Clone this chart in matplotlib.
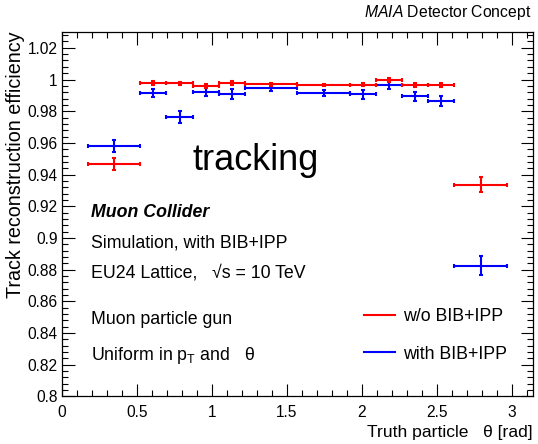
"""Track reconstruction efficiency vs truth theta, with and without BIB+IPP."""
import numpy as np
import matplotlib
matplotlib.use('Agg')
import matplotlib.pyplot as plt
from matplotlib.ticker import MultipleLocator, FuncFormatter
from matplotlib.lines import Line2D

plt.rcParams['font.family'] = ['Liberation Sans', 'DejaVu Sans']
plt.rcParams['mathtext.fontset'] = 'custom'
plt.rcParams['mathtext.rm'] = 'Liberation Sans'
plt.rcParams['mathtext.it'] = 'Liberation Sans:italic'

# theta bin edges in degrees
bin_edges_deg = [10, 30, 40, 50, 60, 70, 90, 110, 120, 130, 140, 150, 170]

# efficiency without BIB+IPP
eff_no_bib = [0.9467, 0.9978, 0.9976, 0.9959, 0.9978, 0.9970,
              0.9965, 0.9967, 0.9997, 0.9965, 0.9965, 0.9336]
err_no_bib = [0.0040, 0.0012, 0.0010, 0.0012, 0.0012, 0.0008,
              0.0008, 0.0010, 0.0010, 0.0012, 0.0012, 0.0046]

# efficiency with BIB+IPP
eff_bib = [0.9582, 0.9913, 0.9765, 0.9921, 0.9909, 0.9944,
           0.9913, 0.9907, 0.9963, 0.9894, 0.9866, 0.8825]
err_bib = [0.0037, 0.0026, 0.0037, 0.0026, 0.0030, 0.0017,
           0.0020, 0.0027, 0.0020, 0.0030, 0.0030, 0.0060]

RED = '#ff0000'
BLUE = '#0000ff'

edges = np.deg2rad(bin_edges_deg)
centers = 0.5 * (edges[1:] + edges[:-1])
half_w = 0.5 * (edges[1:] - edges[:-1])

fig = plt.figure(figsize=(5.38, 4.44), dpi=100)
ax = fig.add_axes([0.1147, 0.107, 0.876, 0.821])

ax.errorbar(centers, eff_bib, xerr=half_w, yerr=err_bib, fmt='none',
            ecolor=BLUE, elinewidth=1.5, capsize=1.6, capthick=1.5)
ax.errorbar(centers, eff_no_bib, xerr=half_w, yerr=err_no_bib, fmt='none',
            ecolor=RED, elinewidth=1.5, capsize=1.6, capthick=1.5)

ax.set_xlim(0, np.pi)
ax.set_ylim(0.8, 1.03)
ax.xaxis.set_major_locator(MultipleLocator(0.5))
ax.xaxis.set_minor_locator(MultipleLocator(0.1))
ax.yaxis.set_major_locator(MultipleLocator(0.02))
ax.yaxis.set_minor_locator(MultipleLocator(0.004))
ax.xaxis.set_major_formatter(FuncFormatter(lambda v, p: f'{v:g}'))
ax.yaxis.set_major_formatter(FuncFormatter(lambda v, p: f'{round(v, 3):g}'))
ax.tick_params(which='both', direction='in', top=True, right=True,
               labelsize=11.2, width=0.8)
ax.tick_params(which='major', length=9)
ax.tick_params(which='minor', length=4.5)
ax.tick_params(axis='x', pad=6)
ax.tick_params(axis='y', pad=3)
for sp in ax.spines.values():
    sp.set_linewidth(0.9)

ax.set_xlabel('Truth particle   \u03b8 [rad]', fontsize=12.6, ha='right')
ax.xaxis.set_label_coords(1.0, -0.078)
ax.set_ylabel('Track reconstruction efficiency', fontsize=14.2,
              ha='right', va='center')
ax.yaxis.set_label_coords(-0.099, 1.0)

fig.text(0.988, 0.962, r'$\mathit{MAIA}$ Detector Concept', ha='right',
         va='baseline', fontsize=11.3)

ax.text(0.2765, 0.621, 'tracking', transform=ax.transAxes, fontsize=26,
        va='baseline', ha='left')

tx = 0.0615
ax.text(tx, 0.4916, 'Muon Collider', transform=ax.transAxes, fontsize=12.8,
        fontweight='bold', fontstyle='italic', va='baseline')
ax.text(tx, 0.409, 'Simulation, with BIB+IPP', transform=ax.transAxes,
        fontsize=12.8, va='baseline')
ax.text(tx, 0.327, 'EU24 Lattice,   \u221as = 10 TeV', transform=ax.transAxes,
        fontsize=12.8, va='baseline')
ax.text(tx, 0.1989, 'Muon particle gun', transform=ax.transAxes,
        fontsize=12.8, va='baseline')
ax.text(tx, 0.1001, r'Uniform in $\mathrm{p}_\mathrm{T}$ and   $\mathrm{\theta}$',
        transform=ax.transAxes, fontsize=12.8, va='baseline')

handles = [Line2D([0], [0], color=RED, lw=1.5, label='w/o BIB+IPP'),
           Line2D([0], [0], color=BLUE, lw=1.5, label='with BIB+IPP')]
ax.legend(handles=handles, loc='upper left', bbox_to_anchor=(0.6416, 0.2428),
          frameon=False, fontsize=12.8, handlelength=1.74, handletextpad=0.45,
          labelspacing=1.16, borderpad=0, borderaxespad=0)

fig.savefig('out.png', dpi=100)
plt.close(fig)
